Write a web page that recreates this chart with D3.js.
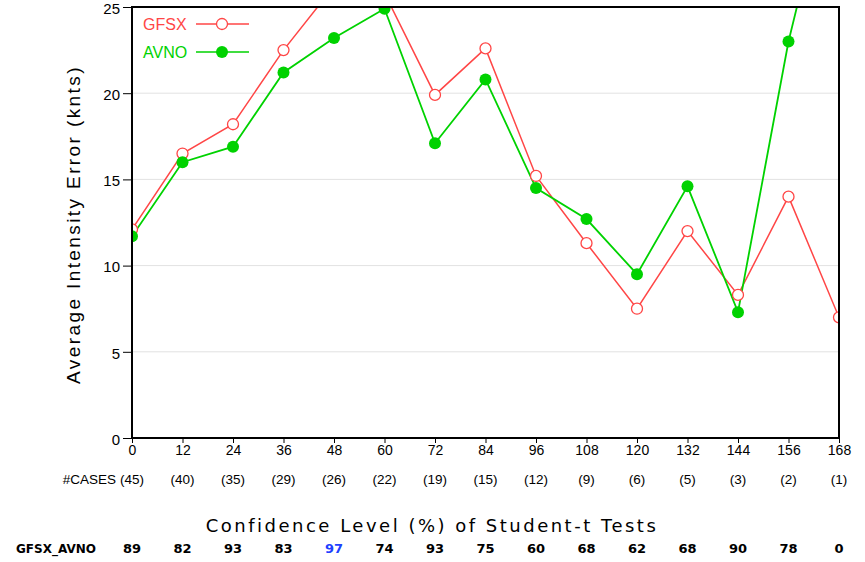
<!DOCTYPE html>
<html>
<head>
<meta charset="utf-8">
<script src="https://cdn.jsdelivr.net/npm/d3@7/dist/d3.min.js"></script>
<style>
  html, body { margin: 0; padding: 0; background: #fff; }
  svg { display: block; }
</style>
</head>
<body>
<script>
// Forecast hours along the x axis
const hours = [0, 12, 24, 36, 48, 60, 72, 84, 96, 108, 120, 132, 144, 156, 168];
// Average intensity error (kt) per model
const gfsx = [12.1, 16.5, 18.2, 22.5, 26.2, 25.8, 19.9, 22.6, 15.2, 11.3, 7.5, 12.0, 8.3, 14.0, 7.0];
const avno = [11.7, 16.0, 16.9, 21.2, 23.2, 24.9, 17.1, 20.8, 14.5, 12.7, 9.5, 14.6, 7.3, 23.0, 35.0];
// Number of verifying cases per forecast hour
const cases = [45, 40, 35, 29, 26, 22, 19, 15, 12, 9, 6, 5, 3, 2, 1];
// Student-t confidence levels (%) for GFSX vs AVNO
const confidence = [89, 82, 93, 83, 97, 74, 93, 75, 60, 68, 62, 68, 90, 78, 0];
const yTicks = [0, 5, 10, 15, 20, 25];

const W = 865, H = 562;
const m = { left: 132, right: 839, top: 7, bottom: 438 };
const RED = "#ff4646", GREEN = "#00d200";
const SANS = "Liberation Sans, Arial, sans-serif";

const svg = d3.select("body").append("svg").attr("width", W).attr("height", H);

const x = d3.scaleLinear().domain([0, 168]).range([m.left, m.right]);
const y = d3.scaleLinear().domain([0, 25]).range([m.bottom, m.top]);

svg.append("defs").append("clipPath").attr("id", "plot")
  .append("rect").attr("x", m.left).attr("y", m.top)
  .attr("width", m.right - m.left).attr("height", m.bottom - m.top);

// horizontal grid
svg.append("g").selectAll("line").data(yTicks.filter(d => d > 0 && d < 25)).join("line")
  .attr("x1", m.left).attr("x2", m.right)
  .attr("y1", d => y(d)).attr("y2", d => y(d))
  .attr("stroke", "#e2e2e2").attr("stroke-width", 1);

// y axis
const yAxis = svg.append("g").attr("transform", `translate(${m.left},0)`)
  .call(d3.axisLeft(y).tickValues(yTicks).tickSize(9).tickPadding(3));
yAxis.select(".domain").remove();
yAxis.selectAll("text").attr("font-family", SANS)
  .attr("font-size", 15).attr("fill", "#000").attr("dy", "0.42em");

// x axis
const xAxis = svg.append("g").attr("transform", `translate(0,${m.bottom})`)
  .call(d3.axisBottom(x).tickValues(hours).tickSize(5).tickPadding(2));
xAxis.select(".domain").remove();
xAxis.selectAll("text").attr("font-family", SANS)
  .attr("font-size", 14).attr("fill", "#000");

// series
const line = d3.line().x((d, i) => x(hours[i])).y(d => y(d));
const plot = svg.append("g").attr("clip-path", "url(#plot)");

plot.append("path").datum(gfsx).attr("d", line)
  .attr("fill", "none").attr("stroke", RED).attr("stroke-width", 1.5);
plot.append("path").datum(avno).attr("d", line)
  .attr("fill", "none").attr("stroke", GREEN).attr("stroke-width", 1.8);

plot.append("g").selectAll("circle").data(gfsx).join("circle")
  .attr("cx", (d, i) => x(hours[i])).attr("cy", d => y(d)).attr("r", 5.5)
  .attr("fill", "#fff").attr("stroke", RED).attr("stroke-width", 1.3);
plot.append("g").selectAll("circle").data(avno).join("circle")
  .attr("cx", (d, i) => x(hours[i])).attr("cy", d => y(d)).attr("r", 6)
  .attr("fill", GREEN);

// frame
svg.append("rect").attr("x", m.left).attr("y", m.top)
  .attr("width", m.right - m.left).attr("height", m.bottom - m.top)
  .attr("fill", "none").attr("stroke", "#000").attr("stroke-width", 2);

// legend
const legend = [
  { name: "GFSX", color: RED, open: true },
  { name: "AVNO", color: GREEN, open: false }
];
const lg = svg.append("g");
legend.forEach((s, i) => {
  const ly = 24 + i * 28;
  lg.append("text").attr("x", 143).attr("y", ly + 6).text(s.name)
    .attr("font-family", SANS).attr("font-size", 16)
    .attr("fill", s.color);
  lg.append("line").attr("x1", 196).attr("x2", 249).attr("y1", ly).attr("y2", ly)
    .attr("stroke", s.color).attr("stroke-width", 1.5);
  lg.append("circle").attr("cx", 222).attr("cy", ly).attr("r", s.open ? 5.5 : 6)
    .attr("fill", s.open ? "#fff" : s.color)
    .attr("stroke", s.open ? s.color : "none").attr("stroke-width", 1.3);
});

// y axis title
svg.append("text")
  .attr("transform", `translate(80,${(m.top + m.bottom) / 2 + 2}) rotate(-90)`)
  .attr("text-anchor", "middle")
  .attr("font-family", SANS).attr("font-size", 19)
  .attr("letter-spacing", 2.4)
  .text("Average Intensity Error (knts)");

// case counts
svg.append("text").attr("x", 116).attr("y", 484).attr("text-anchor", "end")
  .attr("font-family", SANS).attr("font-size", 13.5)
  .text("#CASES");
svg.append("g").selectAll("text").data(cases).join("text")
  .attr("x", (d, i) => x(hours[i])).attr("y", 484).attr("text-anchor", "middle")
  .attr("font-family", SANS).attr("font-size", 13.5)
  .text(d => `(${d})`);

// confidence table
svg.append("text").attr("x", 432).attr("y", 532).attr("text-anchor", "middle")
  .attr("font-family", "DejaVu Sans, sans-serif").attr("font-size", 18)
  .attr("letter-spacing", 2.5)
  .text("Confidence Level (%) of Student-t Tests");
svg.append("text").attr("x", 16).attr("y", 553)
  .attr("font-family", "DejaVu Sans, sans-serif").attr("font-size", 12).attr("font-weight", "bold")
  .text("GFSX_AVNO");
svg.append("g").selectAll("text").data(confidence).join("text")
  .attr("x", (d, i) => x(hours[i])).attr("y", 553).attr("text-anchor", "middle")
  .attr("font-family", "DejaVu Sans, sans-serif").attr("font-size", 13).attr("font-weight", "bold")
  .attr("fill", d => d >= 95 ? "#2040ff" : "#000")
  .text(d => d);
</script>
</body>
</html>
